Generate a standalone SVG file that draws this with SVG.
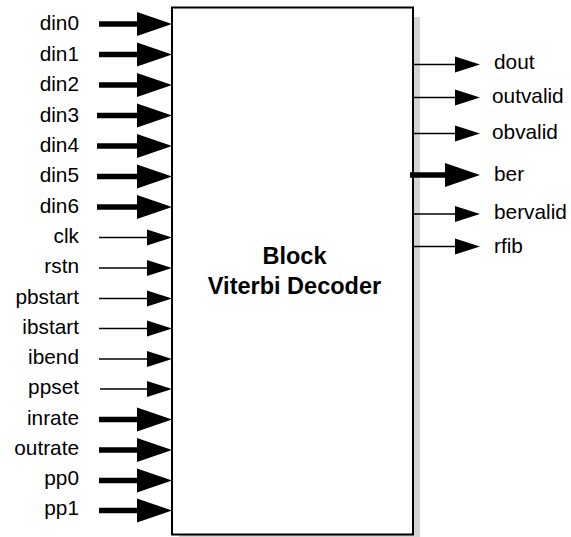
<svg xmlns="http://www.w3.org/2000/svg" width="571" height="537" viewBox="0 0 571 537">
<style>
text{font-family:"Liberation Sans",Arial,Helvetica,sans-serif;font-size:20.8px;fill:#000}
.l{text-anchor:end}
.r{text-anchor:start}
.title{font-weight:bold;font-size:23.5px;text-anchor:middle}
.thin{stroke:#000;stroke-width:1.6;fill:none;marker-end:url(#hThin)}
.thick{stroke:#000;stroke-width:5.5;fill:none;marker-end:url(#hThick)}
</style>
<defs>
<marker id="hThin" markerUnits="userSpaceOnUse" markerWidth="25" markerHeight="16" refX="3" refY="8" orient="auto" overflow="visible">
<path d="M0,0 L25,8 L0,16 Z" fill="#000"/>
</marker>
<marker id="hThick" markerUnits="userSpaceOnUse" markerWidth="35" markerHeight="24" refX="3" refY="12" orient="auto" overflow="visible">
<path d="M0,0 L35,12 L0,24 Z" fill="#000"/>
</marker>
</defs>
<rect width="571" height="537" fill="#fff"/>
<g id="block">
<rect x="179" y="17" width="241" height="528" fill="#d4d4d4"/>
<rect x="172" y="7.5" width="241" height="527" fill="#fff" stroke="#000" stroke-width="2"/>
<text class="title" x="294.5" y="263.5">Block</text>
<text class="title" x="294.5" y="293.5">Viterbi Decoder</text>
</g>
<g id="connectors">
<path class="thick" d="M99,24 H140"/>
<path class="thick" d="M99,54.5 H140"/>
<path class="thick" d="M99,85 H140"/>
<path class="thick" d="M97,115.5 H140"/>
<path class="thick" d="M97,146 H140"/>
<path class="thick" d="M97,176.5 H140"/>
<path class="thick" d="M97,207 H140"/>
<path class="thin" d="M99,237.5 H150"/>
<path class="thin" d="M99,268 H150"/>
<path class="thin" d="M99,298.5 H150"/>
<path class="thin" d="M99,328.5 H150"/>
<path class="thin" d="M99,359 H150"/>
<path class="thin" d="M100,389 H150"/>
<path class="thick" d="M99,419.5 H140"/>
<path class="thick" d="M99,450 H140"/>
<path class="thick" d="M99,480.5 H140"/>
<path class="thick" d="M99,510.5 H140"/>
<path class="thin" d="M413,64.5 H458"/>
<path class="thin" d="M413,97.5 H458"/>
<path class="thin" d="M413,133.5 H458"/>
<path class="thick" d="M410,175 H448"/>
<path class="thin" d="M413,214 H458"/>
<path class="thin" d="M413,246.5 H458"/>
</g>
<g id="inputs">
<text class="l" x="79" y="30">din0</text>
<text class="l" x="79" y="60.5">din1</text>
<text class="l" x="79" y="91">din2</text>
<text class="l" x="79" y="121.5">din3</text>
<text class="l" x="79" y="151.5">din4</text>
<text class="l" x="79" y="182">din5</text>
<text class="l" x="79" y="212.5">din6</text>
<text class="l" x="79" y="242.5">clk</text>
<text class="l" x="79" y="273">rstn</text>
<text class="l" x="79" y="303.5">pbstart</text>
<text class="l" x="79" y="333.5">ibstart</text>
<text class="l" x="79" y="364">ibend</text>
<text class="l" x="79" y="394">ppset</text>
<text class="l" x="79" y="424.5">inrate</text>
<text class="l" x="79" y="454.5">outrate</text>
<text class="l" x="79" y="485">pp0</text>
<text class="l" x="79" y="515">pp1</text>
</g>
<g id="outputs">
<text class="r" x="494" y="68.5">dout</text>
<text class="r" x="492" y="103">outvalid</text>
<text class="r" x="492" y="139">obvalid</text>
<text class="r" x="494" y="180.5">ber</text>
<text class="r" x="494" y="218.5">bervalid</text>
<text class="r" x="494" y="253">rfib</text>
</g>
</svg>
